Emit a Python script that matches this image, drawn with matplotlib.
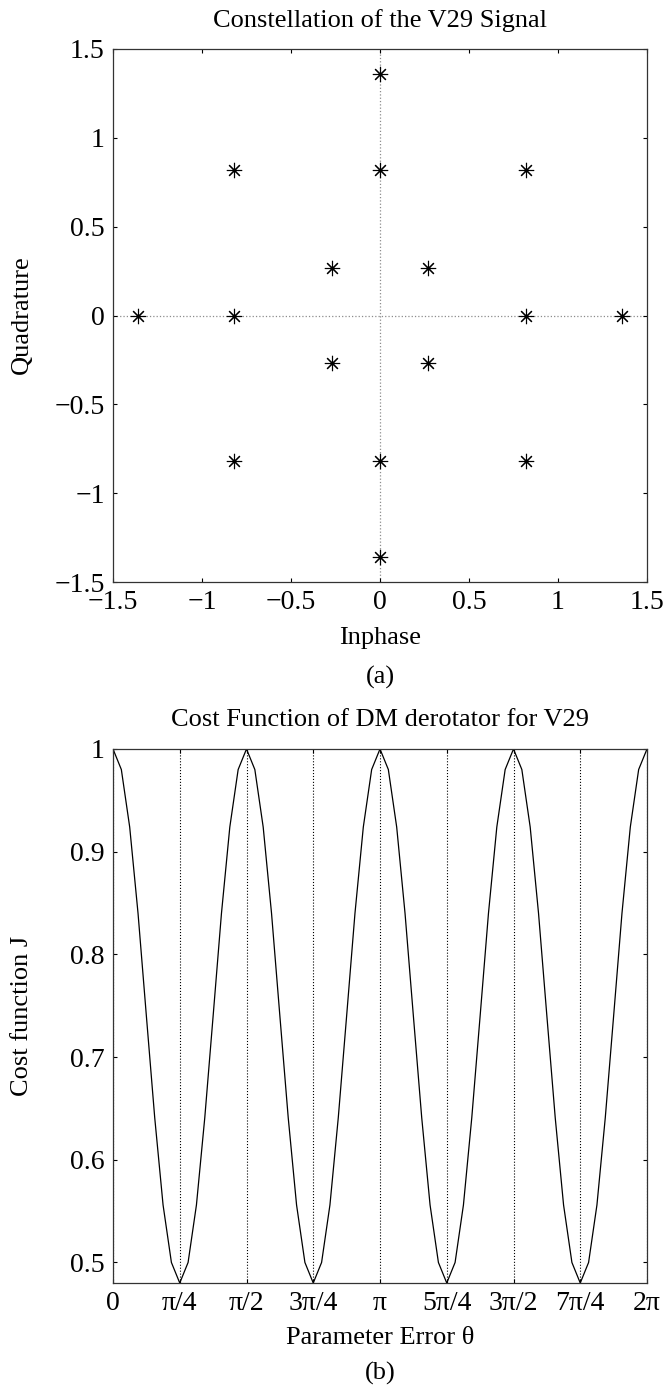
import numpy as np
import matplotlib
matplotlib.use('Agg')
import matplotlib.pyplot as plt

plt.rcParams['font.family'] = ['Liberation Serif', 'DejaVu Serif']

# V29 constellation points
inphase = [0, 0, 0, 0, -1.36, -0.82, 0.82, 1.36,
           -0.82, 0.82, -0.82, 0.82, -0.27, 0.27, -0.27, 0.27]
quadrature = [1.36, 0.82, -0.82, -1.36, 0, 0, 0, 0,
              0.82, 0.82, -0.82, -0.82, 0.27, 0.27, -0.27, -0.27]

# cost function J, sampled every pi/32 from 0 to 2*pi
cost_J = [1.000, 0.980, 0.924, 0.840, 0.740, 0.641, 0.556, 0.500,
          0.480, 0.500, 0.556, 0.641, 0.740, 0.840, 0.924, 0.980,
          1.000, 0.980, 0.924, 0.840, 0.740, 0.641, 0.556, 0.500,
          0.480, 0.500, 0.556, 0.641, 0.740, 0.840, 0.924, 0.980,
          1.000, 0.980, 0.924, 0.840, 0.740, 0.641, 0.556, 0.500,
          0.480, 0.500, 0.556, 0.641, 0.740, 0.840, 0.924, 0.980,
          1.000, 0.980, 0.924, 0.840, 0.740, 0.641, 0.556, 0.500,
          0.480, 0.500, 0.556, 0.641, 0.740, 0.840, 0.924, 0.980,
          1.000]
theta = np.linspace(0, 2 * np.pi, len(cost_J))

iq_ticks = [-1.5, -1, -0.5, 0, 0.5, 1, 1.5]
iq_labels = ['\u22121.5', '\u22121', '\u22120.5', '0', '0.5', '1', '1.5']
theta_labels = ['0', '\u03c0/4', '\u03c0/2', '3\u03c0/4', '\u03c0',
                '5\u03c0/4', '3\u03c0/2', '7\u03c0/4', '2\u03c0']
j_ticks = [0.5, 0.6, 0.7, 0.8, 0.9, 1.0]
j_labels = ['0.5', '0.6', '0.7', '0.8', '0.9', '1']

W, H = 665, 1385
fig = plt.figure(figsize=(W / 100, H / 100), dpi=100)

def box(x0, y0, x1, y1):
    # pixel box (from top-left) -> figure fraction
    return [x0 / W, 1 - y1 / H, (x1 - x0) / W, (y1 - y0) / H]

TICK = 20
LAB = 19

def style(ax):
    ax.tick_params(direction='in', length=3, width=0.8, top=True, right=True,
                   labelsize=TICK, pad=6, colors='k')
    for s in ax.spines.values():
        s.set_linewidth(0.9)
        s.set_color('0.2')

# (a) constellation
ax1 = fig.add_axes(box(113, 49, 647, 582))
ax1.axhline(0, ls=':', color='0.55', lw=0.9, zorder=1)
ax1.axvline(0, ls=':', color='0.55', lw=0.9, zorder=1)
ax1.plot(inphase, quadrature, ls='none', marker=(8, 2, 0), ms=11,
         mec='k', mew=0.8, color='k', zorder=3)
ax1.set_xlim(-1.5, 1.5)
ax1.set_ylim(-1.5, 1.5)
ax1.set_xticks(iq_ticks)
ax1.set_xticklabels(iq_labels)
ax1.set_yticks(iq_ticks)
ax1.set_yticklabels(iq_labels)
style(ax1)

# (b) cost function
ax2 = fig.add_axes(box(113, 749, 647, 1283))
ax2.plot(theta, cost_J, color='k', lw=0.9)
ax2.set_xlim(0, 2 * np.pi)
ax2.set_ylim(0.48, 1.0)
ax2.set_xticks(np.arange(9) * np.pi / 4)
ax2.set_xticklabels(theta_labels)
ax2.set_yticks(j_ticks)
ax2.set_yticklabels(j_labels)
ax2.grid(axis='x', ls=':', color='k', lw=0.8)
style(ax2)

cx = 380 / W
def ftext(x, y, s, **kw):
    fig.text(x, 1 - y / H, s, ha='center', va='center', fontsize=LAB, **kw)

ftext(cx, 21, 'Constellation of the V29 Signal')
ftext(cx, 638, 'Inphase')
ftext(cx, 677, '(a)')
ftext(22 / W, 315, 'Quadrature', rotation=90)
ftext(cx, 720, 'Cost Function of DM derotator for V29')
ftext(cx, 1338, 'Parameter Error \u03b8')
ftext(cx, 1373, '(b)')
ftext(22 / W, 1016, 'Cost function J', rotation=90)

fig.savefig('out.png', dpi=100)
